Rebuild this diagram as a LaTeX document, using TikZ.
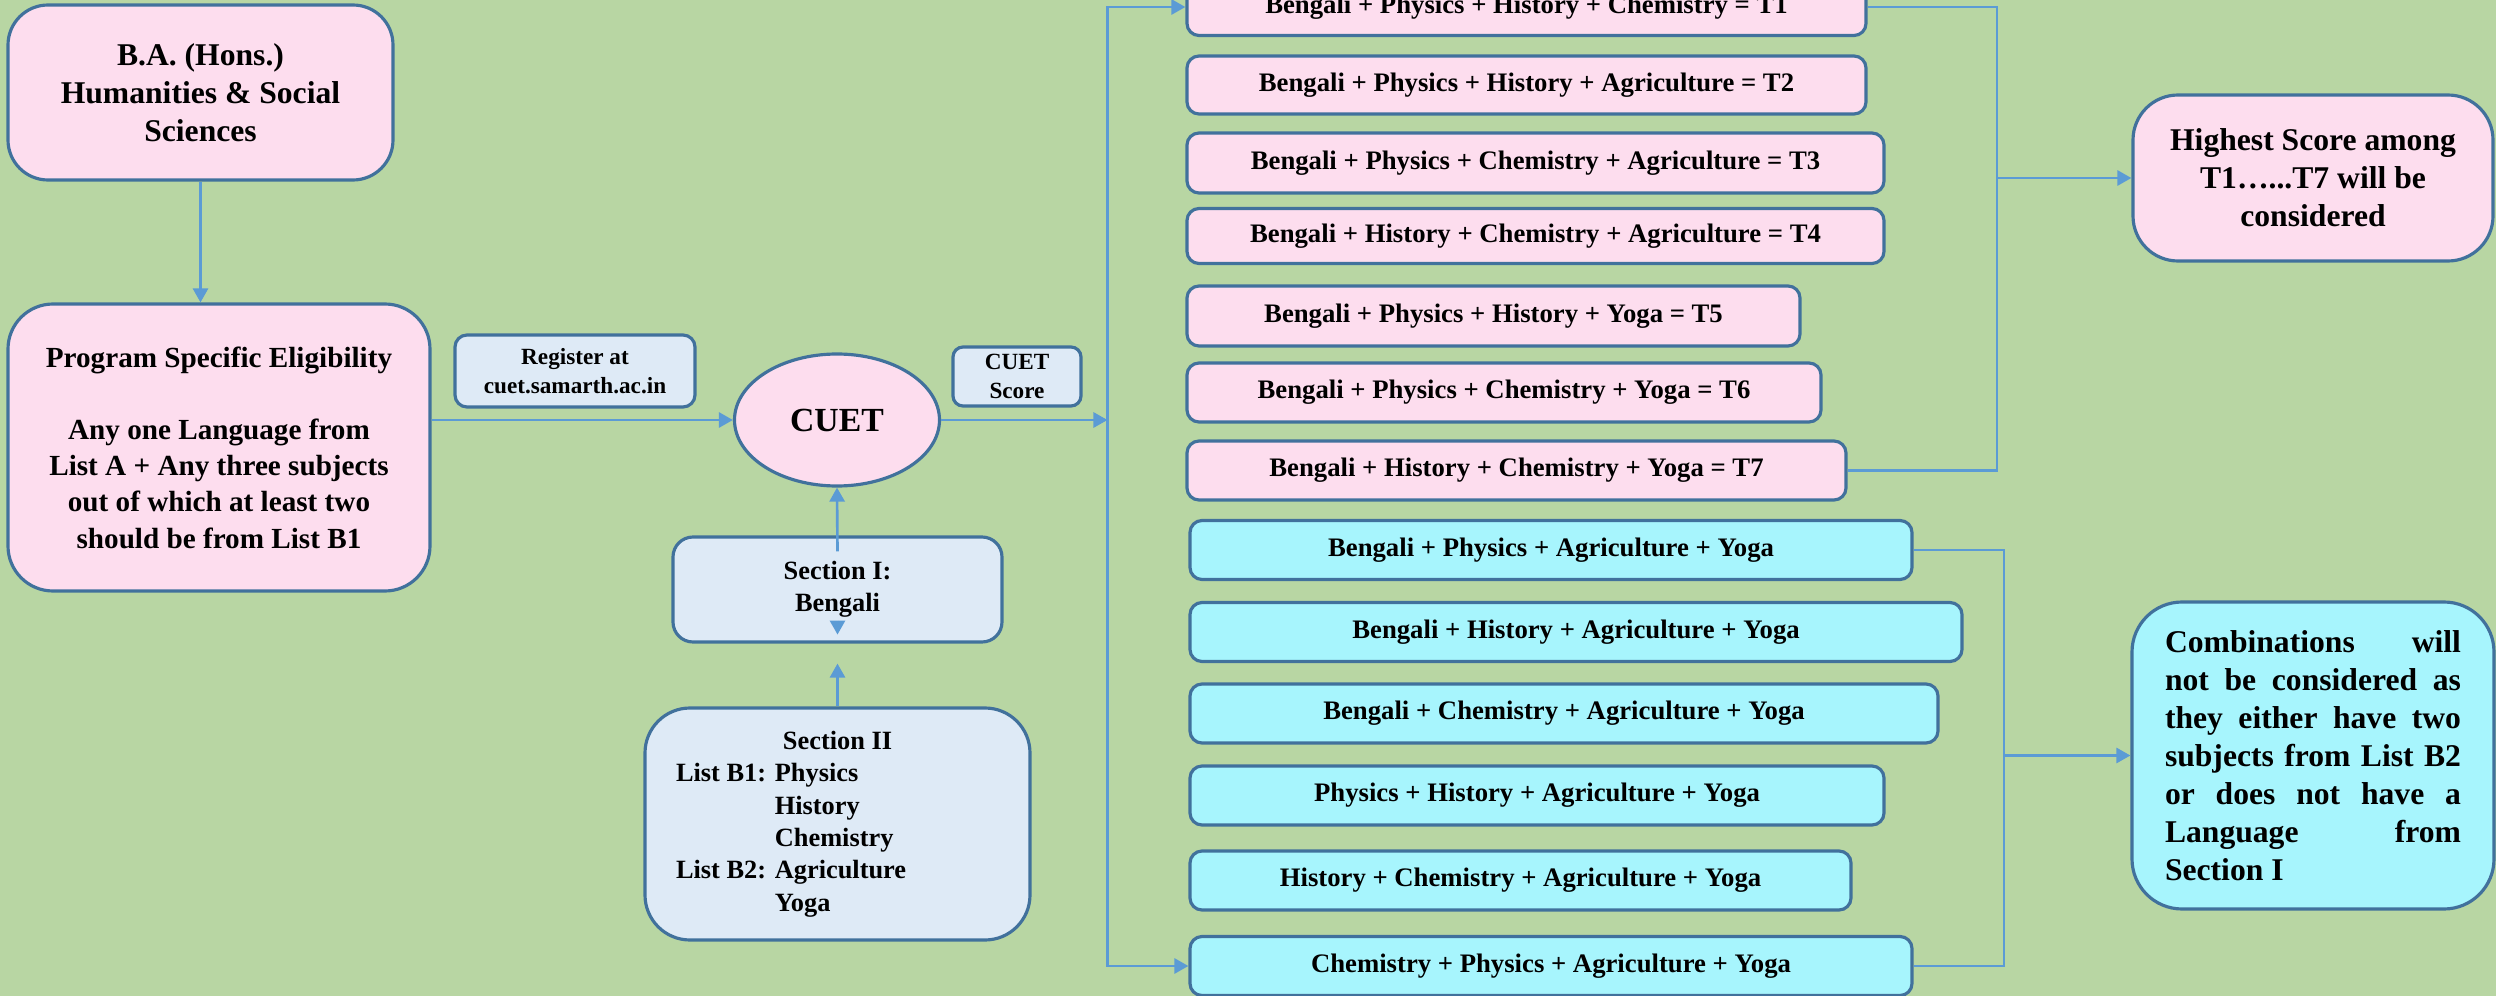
\documentclass[tikz,border=0pt]{standalone}
\usepackage{fontspec}
\setmainfont{Liberation Serif}
\usetikzlibrary{shapes.geometric,arrows.meta}
\definecolor{bggreen}{RGB}{184,214,163}
\definecolor{pinkfill}{RGB}{253,221,238}
\definecolor{paleblue}{RGB}{222,234,246}
\definecolor{cyanfill}{RGB}{167,245,253}
\definecolor{boxline}{RGB}{65,113,156}
\definecolor{linkblue}{RGB}{91,155,213}
\newcommand\fbig{\fontsize{9}{10.8}\selectfont}
\newcommand\fprog{\fontsize{8.3}{10.3}\selectfont}
\newcommand\fmid{\fontsize{7.6}{9.3}\selectfont}
\newcommand\fsec{\fontsize{7.5}{9.2}\selectfont}
\newcommand\fsmall{\fontsize{6.6}{8.1}\selectfont}
\newcommand\fcuet{\fontsize{9.6}{11}\selectfont}
\begin{document}
\begin{tikzpicture}[every node/.style={font=\bfseries, align=center, inner sep=0pt},
  boxbase/.style={draw=boxline, line width=0.9pt},
  pinkbox/.style={boxbase, fill=pinkfill},
  palebox/.style={boxbase, fill=paleblue},
  tbox/.style={pinkbox, rounded corners=0.12cm, font=\bfseries\fmid},
  cbox/.style={boxbase, fill=cyanfill, rounded corners=0.12cm, minimum height=0.59cm, font=\bfseries\fmid},
  link/.style={draw=linkblue, line width=0.75pt},
  conn/.style={link, -{Triangle[length=4pt,width=4.3pt]}}]
\useasboundingbox (0,0) rectangle (24.96,-9.96);
\clip (0,0) rectangle (24.96,-9.96);
\fill[bggreen] (0,0) rectangle (24.96,-9.96);
\node[pinkbox, rounded corners=0.4cm, minimum width=3.85cm, minimum height=1.75cm, font=\bfseries\fbig] (ba) at (2.005000, -0.925000) {B.A. (Hons.)\\Humanities \& Social\\Sciences};
\node[pinkbox, rounded corners=0.45cm, minimum width=4.22cm, minimum height=2.87cm, font=\bfseries\fprog] (prog) at (2.190000, -4.475000) {Program Specific Eligibility\\[10.3pt]Any one Language from\\List A + Any three subjects\\out of which at least two\\should be from List B1};
\draw[conn] (ba.south) -- (ba.south |- prog.north);
\node[palebox, rounded corners=0.12cm, minimum width=2.40cm, minimum height=0.72cm, font=\bfseries\fsmall] (reg) at (5.750000, -3.710000) {Register at\\cuet.samarth.ac.in};
\node[pinkbox, ellipse, minimum width=2.05cm, minimum height=1.32cm, font=\bfseries\fcuet] (cuet) at (8.370000, -4.200000) {CUET};
\draw[conn] (prog.east |- cuet) -- (cuet.west);
\node[palebox, rounded corners=0.1cm, minimum width=1.28cm, minimum height=0.59cm, font=\bfseries\fsmall] (score) at (10.170000, -3.765000) {CUET\\Score};
\node[palebox, rounded corners=0.2cm, minimum width=3.29cm, minimum height=1.05cm, font=\bfseries\fsec] (sec1) at (8.375000, -5.895000) {Section I:\\Bengali};
\draw[conn] ([yshift=-0.16cm]sec1.north) -- (cuet.south);
\draw[conn] ([yshift=0.23cm]sec1.south) -- ([yshift=0.09cm]sec1.south);
\node[palebox, rounded corners=0.45cm, minimum width=3.85cm, minimum height=2.32cm, font=\bfseries\fsec, align=left] (sec2) at (8.375000, -8.240000) {\makebox[3.23cm][c]{Section II}\\List B1: Physics\\\phantom{List B1: }History\\\phantom{List B1: }Chemistry\\List B2: Agriculture\\\phantom{List B2: }Yoga};
\draw[conn] (sec2.north) -- ([yshift=-0.2cm]sec1.south);
\coordinate (lbus) at (11.075000, -4.200000);
\draw[conn] (cuet.east) -- (lbus);
\node[tbox, minimum width=6.79cm, minimum height=0.57cm] (t1) at (15.265000, -0.070000) {Bengali + Physics + History + Chemistry = T1};
\node[tbox, minimum width=6.79cm, minimum height=0.58cm] (t2) at (15.265000, -0.850000) {Bengali + Physics + History + Agriculture = T2};
\node[tbox, minimum width=6.97cm, minimum height=0.60cm] (t3) at (15.355000, -1.630000) {Bengali + Physics + Chemistry + Agriculture = T3};
\node[tbox, minimum width=6.97cm, minimum height=0.55cm] (t4) at (15.355000, -2.360000) {Bengali + History + Chemistry + Agriculture = T4};
\node[tbox, minimum width=6.13cm, minimum height=0.60cm] (t5) at (14.935000, -3.160000) {Bengali + Physics + History + Yoga = T5};
\node[tbox, minimum width=6.34cm, minimum height=0.59cm] (t6) at (15.040000, -3.925000) {Bengali + Physics + Chemistry + Yoga = T6};
\node[tbox, minimum width=6.59cm, minimum height=0.59cm] (t7) at (15.165000, -4.705000) {Bengali + History + Chemistry + Yoga = T7};
\node[cbox, minimum width=7.22cm] (c1) at (15.510000, -5.500000) {Bengali + Physics + Agriculture + Yoga};
\node[cbox, minimum width=7.72cm] (c2) at (15.760000, -6.320000) {Bengali + History + Agriculture + Yoga};
\node[cbox, minimum width=7.48cm] (c3) at (15.640000, -7.135000) {Bengali + Chemistry + Agriculture + Yoga};
\node[cbox, minimum width=6.94cm] (c4) at (15.370000, -7.955000) {Physics + History + Agriculture + Yoga};
\node[cbox, minimum width=6.61cm] (c5) at (15.205000, -8.805000) {History + Chemistry + Agriculture + Yoga};
\node[cbox, minimum width=7.22cm] (c6) at (15.510000, -9.660000) {Chemistry + Physics + Agriculture + Yoga};
\draw[conn] (lbus) |- (t1.west);
\draw[conn] (lbus) |- (c6.west);
\node[pinkbox, rounded corners=0.45cm, minimum width=3.60cm, minimum height=1.66cm, font=\bfseries\fbig] (high) at (23.130000, -1.780000) {Highest Score among\\T1…...T7 will be\\considered};
\coordinate (tbus) at (19.970000, -4.705000);
\draw[link] (t1.east) -| (tbus) -- (t7.east);
\draw[conn] (high.west -| tbus) -- (high.west);
\node[boxbase, fill=cyanfill, rounded corners=0.5cm, minimum width=3.62cm, minimum height=3.07cm, text width=2.96cm, align=justify, font=\bfseries\fbig] (comb) at (23.130000, -7.555000) {Combinations will\linebreak not be considered as\linebreak they either have two\linebreak subjects from List B2\linebreak or does not have a\linebreak Language from\linebreak Section I};
\coordinate (cbus) at (20.040000, -9.660000);
\draw[link] (c1.east) -| (cbus) -- (c6.east);
\draw[conn] (comb.west -| cbus) -- (comb.west);
\end{tikzpicture}
\end{document}
